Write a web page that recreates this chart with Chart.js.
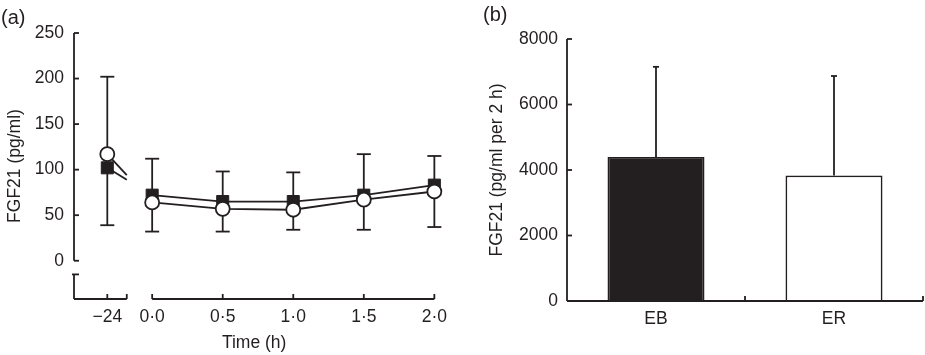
<!DOCTYPE html>
<html>
<head>
<meta charset="utf-8">
<script src="https://cdn.jsdelivr.net/npm/chart.js@4.4.0/dist/chart.umd.min.js"></script>
<style>
  body { margin: 0; background: #fff; }
  #wrap { position: relative; width: 925px; height: 355px; overflow: hidden; font-family: "Liberation Sans", Arial, sans-serif; color: #231f20; }
  .panel { position: absolute; top: 0; height: 355px; }
  #panelA { left: 0; width: 455px; }
  #panelB { left: 460px; width: 465px; }
  .tag { position: absolute; font-size: 20px; line-height: 1; }
</style>
</head>
<body>
<div id="wrap">
  <div class="panel" id="panelA"><canvas id="chartA"></canvas></div>
  <div class="panel" id="panelB"><canvas id="chartB"></canvas></div>
  <div class="tag" style="left:1px; top:7px;">(a)</div>
  <div class="tag" style="left:483px; top:4px;">(b)</div>
</div>
<script>
// panel (a): FGF21 over time
const timePoints = [-24, 0, 0.5, 1.0, 1.5, 2.0];
const timeLabels = ["\u221224", "0\u00b70", "0\u00b75", "1\u00b70", "1\u00b75", "2\u00b70"];
const ebMeans = [102, 72, 65, 65, 72, 83];
const erMeans = [117, 64, 57, 56, 67, 76];
const errUpper = [202, 112, 98, 97, 117, 115];
const errLower = [39, 32, 32, 34, 34, 37];
const yTicksA = [0, 50, 100, 150, 200, 250];

// panel (b): area under curve
const groups = ["EB", "ER"];
const aucMeans = [4400, 3830];
const aucUpper = [7150, 6870];
const yTicksB = [0, 2000, 4000, 6000, 8000];

const INK = "#231f20";
const LW = 1.8;

// broken time axis: the -24 h sample sits on its own short stub left of 0
const X_MIN = -0.554;
const X_PRE = -0.318;
const X_PRE_END = -0.18;
const Y_MIN_A = -42;
const Y_BREAK = -15;

function xPos(t) {
  return t < 0 ? X_PRE : t;
}

Chart.defaults.font.family = '"Liberation Sans", Arial, sans-serif';
Chart.defaults.font.size = 17.5;
Chart.defaults.color = INK;

function seg(ctx, x1, y1, x2, y2) {
  ctx.beginPath();
  ctx.moveTo(x1, y1);
  ctx.lineTo(x2, y2);
  ctx.stroke();
}

const axesA = {
  id: "axesA",
  beforeDatasetsDraw(chart) {
    const { ctx, chartArea, scales: { x, y } } = chart;
    ctx.save();
    ctx.strokeStyle = INK;
    ctx.lineWidth = LW;

    // y axis, broken below zero
    const x0 = chartArea.left;
    seg(ctx, x0, y.getPixelForValue(250), x0, y.getPixelForValue(0));
    seg(ctx, x0, y.getPixelForValue(Y_BREAK), x0, y.getPixelForValue(Y_MIN_A));
    yTicksA.forEach(v => {
      const py = y.getPixelForValue(v);
      seg(ctx, x0, py, x0 + 5, py);
    });
    const pb = y.getPixelForValue(Y_BREAK);
    seg(ctx, x0 - 2, pb, x0 + 5, pb);

    // x axis, broken between -24 and 0
    const y0 = chartArea.bottom;
    seg(ctx, x.getPixelForValue(X_MIN), y0, x.getPixelForValue(X_PRE_END), y0);
    seg(ctx, x.getPixelForValue(0), y0, x.getPixelForValue(2), y0);
    [X_PRE, X_PRE_END].concat(timePoints.slice(1)).forEach(v => {
      const px = x.getPixelForValue(v);
      seg(ctx, px, y0, px, y0 - 5);
    });

    // error bars
    timePoints.forEach((t, i) => {
      const px = x.getPixelForValue(xPos(t));
      const top = y.getPixelForValue(errUpper[i]);
      const bot = y.getPixelForValue(errLower[i]);
      seg(ctx, px, top, px, bot);
      seg(ctx, px - 7, top, px + 7, top);
      seg(ctx, px - 7, bot, px + 7, bot);
    });

    // the line out of -24 stops at the end of the stub
    const cut = x.getPixelForValue(X_PRE_END);
    chart.data.datasets.forEach((ds, di) => {
      const pts = chart.getDatasetMeta(di).data;
      const a = pts[0], b = pts[1];
      const yc = a.y + (b.y - a.y) * (cut - a.x) / (b.x - a.x);
      seg(ctx, a.x, a.y, cut, yc);
    });
    ctx.restore();
  }
};

const hideFirst = {
  borderColor: c => (c.p0DataIndex === 0 ? "rgba(0,0,0,0)" : INK)
};

new Chart(document.getElementById("chartA"), {
  type: "line",
  data: {
    datasets: [
      {
        label: "ER",
        data: timePoints.map((t, i) => ({ x: xPos(t), y: erMeans[i] })),
        borderColor: INK,
        borderWidth: LW,
        pointStyle: "circle",
        pointRadius: 7,
        pointBackgroundColor: "#fff",
        pointBorderColor: INK,
        pointBorderWidth: LW,
        segment: hideFirst,
        clip: false
      },
      {
        label: "EB",
        data: timePoints.map((t, i) => ({ x: xPos(t), y: ebMeans[i] })),
        borderColor: INK,
        borderWidth: LW,
        pointStyle: "rect",
        pointRadius: 8.5,
        pointBackgroundColor: INK,
        pointBorderColor: INK,
        pointBorderWidth: 1,
        segment: hideFirst,
        clip: false
      }
    ]
  },
  options: {
    responsive: true,
    maintainAspectRatio: false,
    animation: false,
    layout: { autoPadding: false, padding: { top: 33, right: 12, bottom: 0, left: 0 } },
    plugins: { legend: { display: false }, tooltip: { enabled: false } },
    scales: {
      x: {
        type: "linear",
        min: X_MIN,
        max: 2,
        grid: { display: false, drawTicks: false },
        border: { display: false },
        afterBuildTicks: s => { s.ticks = timePoints.map(t => ({ value: xPos(t) })); },
        afterFit: s => { s.height = 56; },
        ticks: {
          autoSkip: false,
          maxRotation: 0,
          padding: 8,
          callback: (v, i) => timeLabels[i]
        },
        title: { display: true, text: "Time (h)", padding: { top: 0, bottom: 1 } }
      },
      y: {
        min: Y_MIN_A,
        max: 250,
        grid: { display: false, drawTicks: false },
        border: { display: false },
        afterBuildTicks: s => { s.ticks = yTicksA.map(v => ({ value: v })); },
        afterFit: s => { s.width = 74; },
        ticks: { padding: 10 },
        title: { display: true, text: "FGF21 (pg/ml)", padding: { top: 5, bottom: 0 } }
      }
    }
  },
  plugins: [axesA]
});

const axesB = {
  id: "axesB",
  afterDatasetsDraw(chart) {
    const { ctx, chartArea, scales: { x, y } } = chart;
    ctx.save();
    ctx.strokeStyle = INK;
    ctx.lineWidth = LW;

    const x0 = chartArea.left;
    const y0 = chartArea.bottom;
    seg(ctx, x0, y.getPixelForValue(8000), x0, y0);
    yTicksB.forEach(v => {
      const py = y.getPixelForValue(v);
      seg(ctx, x0, py, x0 + 5, py);
    });
    seg(ctx, x0, y0, chartArea.right, y0);
    const mid = (x.getPixelForValue(0) + x.getPixelForValue(1)) / 2;
    [mid, chartArea.right].forEach(px => seg(ctx, px, y0, px, y0 - 5));

    // error bars, upper side only
    groups.forEach((g, i) => {
      const px = x.getPixelForValue(i);
      const top = y.getPixelForValue(aucUpper[i]);
      const base = y.getPixelForValue(aucMeans[i]);
      seg(ctx, px, base, px, top);
      seg(ctx, px - 3, top, px + 3, top);
    });
    ctx.restore();
  }
};

new Chart(document.getElementById("chartB"), {
  type: "bar",
  data: {
    labels: groups,
    datasets: [{
      data: aucMeans,
      backgroundColor: [INK, "#fff"],
      borderColor: INK,
      borderWidth: LW,
      barPercentage: 0.545,
      categoryPercentage: 1
    }]
  },
  options: {
    responsive: true,
    maintainAspectRatio: false,
    animation: false,
    layout: { autoPadding: false, padding: { top: 39, right: 2, bottom: 0, left: 0 } },
    plugins: { legend: { display: false }, tooltip: { enabled: false } },
    scales: {
      x: {
        grid: { display: false, drawTicks: false },
        border: { display: false },
        afterFit: s => { s.height = 54; },
        ticks: { padding: 8, maxRotation: 0 }
      },
      y: {
        min: 0,
        max: 8000,
        grid: { display: false, drawTicks: false },
        border: { display: false },
        afterBuildTicks: s => { s.ticks = yTicksB.map(v => ({ value: v })); },
        afterFit: s => { s.width = 107; },
        ticks: { padding: 9, callback: v => String(v) },
        title: { display: true, text: "FGF21 (pg/ml per 2 h)", padding: { top: 27, bottom: 0 } }
      }
    }
  },
  plugins: [axesB]
});
</script>
</body>
</html>
